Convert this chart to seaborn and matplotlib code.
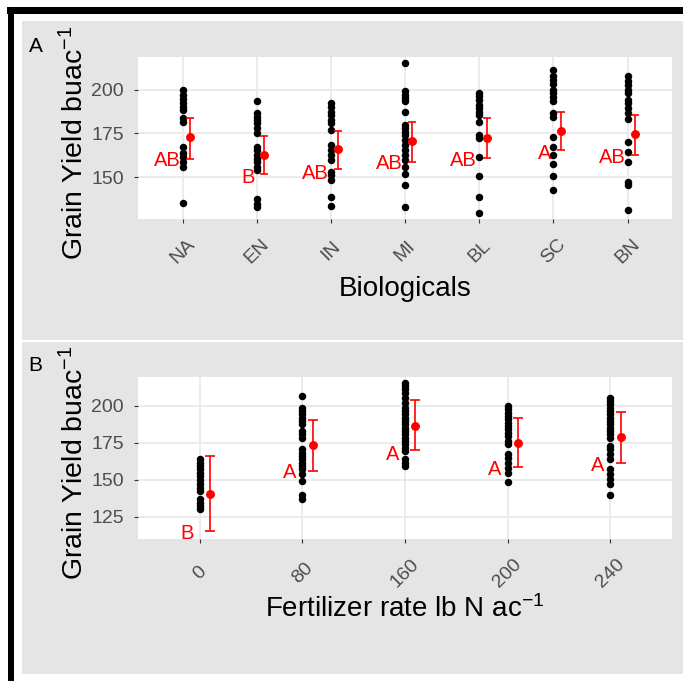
import numpy as np
import pandas as pd
import seaborn as sns
import matplotlib.pyplot as plt
from matplotlib.patches import Rectangle

plt.rcParams['font.family'] = 'Liberation Sans'
plt.rcParams['mathtext.fontset'] = 'custom'
plt.rcParams['mathtext.rm'] = 'Liberation Sans'
plt.rcParams['mathtext.it'] = 'Liberation Sans:italic'
plt.rcParams['mathtext.default'] = 'regular'

# panel A: biologicals
bio_levels = ['NA', 'EN', 'IN', 'MI', 'BL', 'SC', 'BN']
bio_NA = [199.6, 197.1, 194.6, 192.3, 190.0, 188.1, 183.7, 181.3, 167.3, 163.5, 161.2, 158.7, 155.8, 135.0]
bio_EN = [193.3, 186.5, 184.6, 182.7, 180.8, 177.9, 175.0, 167.3, 165.4, 162.5, 160.6, 158.7, 155.8, 153.8,
          137.5, 134.6, 132.7]
bio_IN = [192.3, 190.0, 187.5, 185.6, 182.7, 180.8, 176.9, 168.3, 165.4, 162.5, 159.6, 152.9, 151.0, 148.1,
          138.8, 133.7]
bio_MI = [215.3, 199.0, 197.1, 195.2, 193.3, 187.5, 179.8, 177.9, 176.0, 174.0, 171.2, 168.3, 165.4, 162.5,
          159.6, 155.8, 151.9, 145.2, 132.7]
bio_BL = [198.1, 196.2, 194.2, 191.3, 189.4, 187.5, 185.6, 181.7, 174.0, 172.1, 161.5, 150.4, 138.8, 129.2]
bio_SC = [211.3, 208.0, 205.5, 203.0, 200.0, 198.0, 196.0, 193.5, 186.5, 184.6, 173.1, 167.3, 162.5, 157.7,
          150.4, 142.7]
bio_BN = [207.7, 204.8, 202.9, 200.0, 198.1, 194.2, 192.3, 189.4, 186.5, 183.1, 170.2, 164.4, 158.7, 147.1,
          145.2, 131.2]
bio_mean = [173.0, 162.5, 165.8, 170.6, 172.1, 176.5, 174.6]
bio_low = [160.6, 151.5, 154.6, 158.7, 161.0, 165.4, 162.5]
bio_high = [183.7, 173.5, 176.5, 181.3, 183.7, 187.5, 185.6]
bio_letters = ['AB', 'B', 'AB', 'AB', 'AB', 'A', 'AB']
bio_letter_y = [159.2, 149.6, 152.3, 157.7, 159.6, 163.5, 161.2]

# panel B: fertilizer rate
fert_levels = ['0', '80', '160', '200', '240']
fert_0 = [163.9, 161.6, 159.4, 157.1, 154.9, 152.6, 149.7, 147.4, 144.7, 142.4, 136.8, 134.5, 132.3, 130.0]
fert_80 = [206.8, 198.9, 196.6, 194.4, 192.1, 189.8, 187.6, 183.1, 180.8, 178.6, 170.7, 168.4, 166.1, 163.9,
           161.6, 159.4, 157.1, 153.7, 149.2, 139.7, 136.8]
fert_160 = [215.8, 213.5, 211.3, 209.0, 205.6, 202.3, 198.9, 196.6, 194.4, 192.1, 189.8, 187.6, 185.3, 183.1,
            180.8, 178.6, 176.3, 174.0, 171.8, 169.5, 163.9, 161.6, 159.4]
fert_200 = [200.0, 197.7, 195.5, 193.2, 191.0, 188.7, 186.5, 184.2, 181.9, 179.7, 176.3, 174.0, 167.3, 165.0,
            161.6, 158.2, 154.9, 148.8]
fert_240 = [205.6, 203.4, 201.1, 198.9, 196.6, 194.4, 192.1, 189.8, 187.6, 185.3, 183.1, 180.8, 178.6, 172.9,
            170.7, 167.3, 163.9, 157.1, 153.7, 150.3, 147.0, 139.7]
fert_mean = [140.2, 173.4, 186.5, 175.2, 179.0]
fert_low = [115.3, 156.0, 170.0, 158.9, 161.6]
fert_high = [166.1, 190.3, 203.8, 192.1, 195.9]
fert_letters = ['B', 'A', 'A', 'A', 'A']
fert_letter_y = [114.0, 154.9, 167.3, 157.1, 160.0]

bio_vals = [bio_NA, bio_EN, bio_IN, bio_MI, bio_BL, bio_SC, bio_BN]
df_bio = pd.DataFrame({'Biological': np.repeat(bio_levels, [len(v) for v in bio_vals]),
                       'Yield': np.concatenate(bio_vals)})
fert_vals = [fert_0, fert_80, fert_160, fert_200, fert_240]
df_fert = pd.DataFrame({'Fertilizer': np.repeat(fert_levels, [len(v) for v in fert_vals]),
                        'Yield': np.concatenate(fert_vals)})

W, H = 683, 681
fig = plt.figure(figsize=(W / 100, H / 100), dpi=100)


def rect(x0, y0, x1, y1, color):
    fig.patches.append(Rectangle((x0 / W, 1 - y1 / H), (x1 - x0) / W, (y1 - y0) / H,
                                 transform=fig.transFigure, facecolor=color, edgecolor='none', zorder=-5))


def box(x0, y0, x1, y1):
    return [x0 / W, 1 - y1 / H, (x1 - x0) / W, (y1 - y0) / H]


rect(22, 20.7, 683, 339.5, '#E5E5E5')
rect(22, 342, 683, 674, '#E5E5E5')
rect(7, 7, 683, 14, 'black')
rect(8, 7, 14, 681, 'black')


def panel(ax, df, xcol, levels, mean, low, high, letters, letter_y, ylim, yticks,
          xlabel, capsize, letter_dx, xpad, tag, tag_y):
    sns.stripplot(data=df, x=xcol, y='Yield', order=levels, jitter=False, color='black',
                  size=5.4, linewidth=0, ax=ax, zorder=3)
    mean = np.array(mean)
    pos = np.arange(len(levels)) + 0.1
    ax.errorbar(pos, mean, yerr=[mean - np.array(low), np.array(high) - mean], fmt='o', color='red',
                ms=5.4, elinewidth=1.2, capsize=capsize, capthick=1.2, zorder=4)
    for i, (lab, ly) in enumerate(zip(letters, letter_y)):
        ax.text(i - letter_dx, ly, lab, color='red', ha='right', va='center', fontsize=14.5,
                zorder=5, clip_on=True)
    ax.set_facecolor('white')
    ax.set_xlim(-0.6, len(levels) - 0.4)
    ax.set_ylim(*ylim)
    ax.set_yticks(yticks)
    ax.grid(True, color='#EBEBEB', linewidth=1.4)
    ax.set_axisbelow(True)
    for s in ax.spines.values():
        s.set_visible(False)
    ax.tick_params(axis='both', length=3, width=0.8, color='#333333', labelcolor='#4D4D4D', labelsize=14)
    ax.tick_params(axis='y', pad=7)
    ax.tick_params(axis='x', pad=xpad)
    plt.setp(ax.get_xticklabels(), rotation=45, ha='center', va='center', rotation_mode='default')
    ax.set_xlabel(xlabel, fontsize=20, color='black')
    ax.xaxis.set_label_coords(0.5, -0.43)
    ax.xaxis.label.set_va('center')
    ax.set_ylabel('Grain Yield buac$^{-1}$', fontsize=20.5, color='black')
    ax.yaxis.set_label_coords(-0.118, 0.47)
    ax.yaxis.label.set_va('center')
    fig.text(35.5 / W, 1 - tag_y / H, tag, fontsize=15, ha='center', va='center')


ax1 = fig.add_axes(box(138, 57, 672, 219))
panel(ax1, df_bio, 'Biological', bio_levels, bio_mean, bio_low, bio_high, bio_letters, bio_letter_y,
      (126, 218.7), [150, 175, 200], 'Biologicals', 2.7, 0.03, 20, 'A', 46.5)

ax2 = fig.add_axes(box(138, 376.7, 672, 539))
panel(ax2, df_fert, 'Fertilizer', fert_levels, fert_mean, fert_low, fert_high, fert_letters, fert_letter_y,
      (110, 219.8), [125, 150, 175, 200], 'Fertilizer rate lb N ac$^{-1}$', 3.8, 0.06, 21.5, 'B', 366)

plt.savefig('out.png', dpi=100)
